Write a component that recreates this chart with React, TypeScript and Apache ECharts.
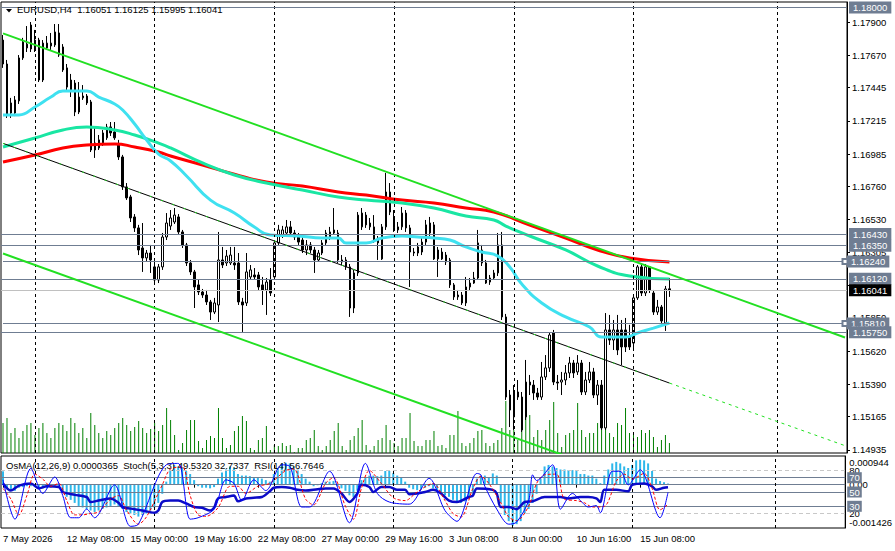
import React, { useEffect, useRef } from 'react';
import * as echarts from 'echarts';

// ---------- DATA ----------
const symbolName = 'EURUSD';
const timeframe = 'H4';
const xTickLabels = ['7 May 2026', '12 May 08:00', '15 May 00:00', '19 May 16:00', '22 May 08:00', '27 May 00:00', '29 May 16:00', '3 Jun 08:00', '8 Jun 00:00', '10 Jun 16:00', '15 Jun 08:00'];
const priceTicks = [1.179, 1.1767, 1.17445, 1.17215, 1.16985, 1.1676, 1.1653, 1.16305, 1.16075, 1.1585, 1.1562, 1.1539, 1.15165, 1.14935];

const opens = [1.17775,1.17609,1.17269,1.17269,1.17353,1.17651,1.17720,1.17713,1.17775,1.17775,1.17498,1.17720,1.17734,1.17741,1.17824,1.17727,1.17582,1.17498,1.17477,1.17276,1.17374,1.17387,1.17346,1.17062,1.17027,1.17062,1.17097,1.17173,1.17138,1.17048,1.16965,1.16757,1.16688,1.16549,1.16473,1.16334,1.16265,1.16299,1.16203,1.16112,1.16203,1.16410,1.16486,1.16514,1.16549,1.16445,1.16355,1.16230,1.16168,1.16078,1.16029,1.16008,1.15960,1.15890,1.15939,1.16251,1.16230,1.16230,1.16230,1.16230,1.15960,1.15953,1.16133,1.16147,1.16147,1.16078,1.16043,1.16112,1.16133,1.16369,1.16424,1.16438,1.16480,1.16438,1.16410,1.16389,1.16320,1.16355,1.16320,1.16251,1.16299,1.16369,1.16410,1.16438,1.16438,1.16251,1.16251,1.16203,1.15918,1.16161,1.16480,1.16562,1.16480,1.16480,1.16389,1.16258,1.16480,1.16722,1.16549,1.16459,1.16480,1.16576,1.16473,1.16306,1.16299,1.16306,1.16375,1.16438,1.16494,1.16320,1.16258,1.16285,1.16251,1.16078,1.15995,1.16008,1.15953,1.16064,1.16091,1.16126,1.16320,1.16230,1.16098,1.16126,1.16161,1.16355,1.15856,1.15315,1.15163,1.15301,1.15301,1.15163,1.15405,1.15384,1.15329,1.15301,1.15440,1.15503,1.15745,1.15405,1.15405,1.15419,1.15468,1.15537,1.15475,1.15537,1.15336,1.15419,1.15475,1.15315,1.15384,1.15087,1.15766,1.15696,1.15766,1.15766,1.15766,1.15717,1.15675,1.15988,1.16203,1.16022,1.16203,1.16022,1.15890,1.15925,1.15814,1.16051];
const closes = [1.17609,1.17255,1.17339,1.17360,1.17651,1.17761,1.17747,1.17879,1.17720,1.17498,1.17754,1.17754,1.17754,1.17831,1.17671,1.17568,1.17449,1.17422,1.17276,1.17380,1.17387,1.17339,1.17013,1.17013,1.17083,1.17131,1.17173,1.17131,1.17097,1.16965,1.16757,1.16681,1.16542,1.16473,1.16320,1.16265,1.16299,1.16251,1.16112,1.16203,1.16410,1.16507,1.16542,1.16562,1.16445,1.16355,1.16230,1.16168,1.16064,1.16029,1.16008,1.15960,1.15890,1.15953,1.16251,1.16216,1.16278,1.16285,1.16216,1.15960,1.15939,1.16168,1.16182,1.16133,1.16064,1.16043,1.16098,1.16022,1.16369,1.16459,1.16459,1.16480,1.16438,1.16410,1.16375,1.16320,1.16355,1.16320,1.16251,1.16299,1.16369,1.16438,1.16445,1.16459,1.16251,1.16237,1.16203,1.15918,1.16161,1.16562,1.16576,1.16494,1.16507,1.16389,1.16369,1.16480,1.16722,1.16583,1.16473,1.16480,1.16576,1.16473,1.16306,1.16299,1.16341,1.16375,1.16494,1.16507,1.16258,1.16258,1.16306,1.16237,1.16078,1.15995,1.16008,1.15953,1.16064,1.16091,1.16126,1.16369,1.16230,1.16091,1.16126,1.16161,1.16355,1.15856,1.15301,1.15211,1.15329,1.15336,1.15073,1.15405,1.15384,1.15329,1.15301,1.15440,1.15503,1.15731,1.15405,1.15398,1.15419,1.15468,1.15537,1.15468,1.15537,1.15336,1.15419,1.15475,1.15315,1.15384,1.15087,1.15766,1.15696,1.15766,1.15627,1.15648,1.15648,1.15648,1.15988,1.16203,1.16022,1.16203,1.16043,1.15890,1.15925,1.15828,1.16050,1.16041];
const lows = [1.17582,1.17235,1.17235,1.17248,1.17332,1.17637,1.17692,1.17692,1.17692,1.17484,1.17484,1.17706,1.17706,1.17727,1.17658,1.17554,1.17429,1.17380,1.17248,1.17262,1.17360,1.17325,1.16999,1.16958,1.17013,1.17041,1.17083,1.17110,1.17083,1.16944,1.16736,1.16667,1.16514,1.16445,1.16285,1.16168,1.16237,1.16161,1.16078,1.16091,1.16182,1.16389,1.16459,1.16500,1.16431,1.16334,1.16209,1.16147,1.15918,1.16008,1.15988,1.15939,1.15835,1.15876,1.15821,1.16195,1.16209,1.16216,1.16182,1.15939,1.15752,1.15932,1.16112,1.16112,1.16043,1.15939,1.15870,1.16001,1.16112,1.16355,1.16403,1.16424,1.16417,1.16389,1.16355,1.16299,1.16285,1.16299,1.16161,1.16237,1.16285,1.16355,1.16389,1.16424,1.16230,1.16216,1.16182,1.15856,1.15883,1.16140,1.16459,1.16473,1.16459,1.16369,1.16251,1.16251,1.16459,1.16562,1.16445,1.16438,1.16459,1.16445,1.16064,1.16278,1.16278,1.16285,1.16355,1.16417,1.16251,1.16133,1.16251,1.16216,1.16057,1.15974,1.15974,1.15939,1.15932,1.16043,1.16085,1.16112,1.16209,1.16085,1.16078,1.16119,1.16140,1.15835,1.15281,1.15093,1.15073,1.15281,1.15059,1.15142,1.15315,1.15281,1.15281,1.15281,1.15419,1.15475,1.15384,1.15350,1.15315,1.15384,1.15433,1.15433,1.15454,1.15315,1.15315,1.15398,1.15294,1.15246,1.15073,1.15073,1.15662,1.15627,1.15592,1.15523,1.15613,1.15627,1.15641,1.15974,1.16001,1.16001,1.16022,1.15870,1.15870,1.15814,1.15759,1.15995];
const highs = [1.17810,1.17637,1.17374,1.17387,1.17671,1.17790,1.17872,1.17900,1.17845,1.17790,1.17775,1.17803,1.17824,1.17886,1.17886,1.17747,1.17609,1.17540,1.17498,1.17484,1.17463,1.17401,1.17360,1.17173,1.17117,1.17152,1.17194,1.17207,1.17207,1.17083,1.16979,1.16784,1.16702,1.16569,1.16494,1.16507,1.16320,1.16355,1.16237,1.16223,1.16438,1.16576,1.16597,1.16611,1.16569,1.16459,1.16369,1.16251,1.16182,1.16112,1.16050,1.16043,1.15974,1.15988,1.16445,1.16341,1.16320,1.16341,1.16341,1.16299,1.15988,1.16299,1.16216,1.16195,1.16168,1.16133,1.16126,1.16195,1.16389,1.16494,1.16487,1.16528,1.16521,1.16459,1.16438,1.16417,1.16389,1.16375,1.16341,1.16320,1.16389,1.16459,1.16480,1.16611,1.16459,1.16285,1.16271,1.16223,1.16182,1.16583,1.16611,1.16583,1.16542,1.16562,1.16417,1.16500,1.16854,1.16784,1.16597,1.16514,1.16618,1.16597,1.16494,1.16334,1.16369,1.16403,1.16528,1.16549,1.16514,1.16341,1.16334,1.16306,1.16265,1.16091,1.16043,1.16029,1.16133,1.16126,1.16168,1.16459,1.16355,1.16251,1.16147,1.16182,1.16438,1.16445,1.15877,1.15350,1.15384,1.15419,1.15336,1.15558,1.15454,1.15419,1.15364,1.15544,1.15592,1.15745,1.15766,1.15454,1.15475,1.15523,1.15579,1.15558,1.15592,1.15558,1.15475,1.15544,1.15503,1.15419,1.15419,1.15883,1.15870,1.15835,1.15870,1.15835,1.15849,1.15801,1.16008,1.16216,1.16223,1.16223,1.16209,1.16043,1.15974,1.15939,1.16071,1.16125];
const volumes = [30,35,20,25,15,22,28,30,18,25,30,20,15,25,30,28,22,35,30,20,25,15,40,28,20,15,22,18,25,30,35,28,22,26,32,25,20,24,30,22,28,45,33,18,3,10,23,33,33,12,5,13,17,15,45,15,5,8,22,27,37,32,5,3,13,15,27,3,8,7,10,7,8,1,5,5,13,15,23,7,3,7,13,22,30,7,3,13,17,25,33,8,3,7,13,15,28,13,10,7,15,15,40,12,7,7,13,13,22,7,8,5,18,18,42,10,7,10,15,22,23,10,7,10,13,25,52,23,23,13,36,36,38,16,23,13,23,33,51,20,6,18,20,23,50,23,16,20,20,30,56,56,20,16,30,28,45,20,20,16,23,20,23,16,6,13,18,10];

const maFast = [[0,1.17256],[4,1.17256],[8,1.17311],[12,1.1738],[15,1.17422],[21,1.17422],[24,1.1738],[28,1.17332],[30,1.1729],[33,1.17193],[36,1.17082],[39,1.16985],[42,1.16937],[46,1.16833],[52,1.16666],[58,1.16576],[63,1.16479],[67,1.16424],[74,1.16417],[80,1.16403],[84,1.16403],[86,1.16368],[91,1.16368],[95,1.16403],[100,1.16417],[104,1.1641],[108,1.16403],[112,1.16389],[116,1.16341],[120,1.16306],[124,1.16278],[127,1.16202],[130,1.16084],[135,1.15953],[141,1.15856],[147,1.15786],[150,1.15717],[156,1.15717],[159,1.15745],[163,1.15779],[167,1.15814]];
const maMid = [[0,1.17034],[8,1.17096],[15,1.17152],[21,1.17172],[28,1.17152],[33,1.17117],[39,1.17061],[42,1.17027],[50,1.16923],[58,1.1684],[66,1.16784],[75,1.16736],[84,1.16687],[91,1.16666],[100,1.16646],[108,1.16611],[116,1.16556],[123,1.16528],[126,1.16486],[132,1.16417],[141,1.1632],[149,1.16209],[157,1.1614],[167,1.16119]];
const maSlow = [[0,1.1693],[8,1.16978],[15,1.17027],[21,1.17048],[28,1.17055],[33,1.17034],[39,1.16999],[42,1.16971],[50,1.16909],[58,1.16845],[66,1.16791],[75,1.16763],[84,1.16722],[91,1.16701],[100,1.16666],[108,1.16646],[116,1.16611],[123,1.16583],[132,1.16493],[141,1.16403],[149,1.1632],[157,1.16265],[167,1.16237]];

const channelUpper = [[0,1.17821],[211,1.15714]];
const channelMid = [[0,1.17059],[167,1.15398]];
const channelMidRay = [[167,1.15398],[211,1.14964]];
const channelLower = [[0,1.16296],[211,1.14196]];

const levelPrices = [1.18, 1.1643, 1.1635, 1.1624, 1.1612, 1.1581, 1.1575];
const levelWithSquare = [1.1624, 1.1581];
const weekStartBars = [8, 38, 68, 98, 128, 158, 194];

const osma = [0.00044,-0.00015,-0.0002,-0.0002,-0.0001,-0.00008,-0.00005,-0.00005,-0.00008,-0.0001,-0.00012,-0.00012,-0.0001,-0.00008,-0.0001,-0.00025,-0.0004,-0.0005,-0.0006,-0.0007,-0.00075,-0.0008,-0.00085,-0.0009,-0.00085,-0.0008,-0.00075,-0.0007,-0.00065,-0.0007,-0.0008,-0.0009,-0.00095,-0.001,-0.00105,-0.001,-0.00095,-0.00085,-0.00075,-0.0006,-0.0003,0.0001,0.00045,0.00065,0.0006,0.00055,0.00045,0.00035,0.00015,-0.00005,-0.0001,-0.0001,-0.00012,-0.00008,0.0002,0.0004,0.0005,0.0006,0.00055,0.00035,0.0003,0.0003,0.00028,0.00025,0.00022,0.0002,0.00015,0.0001,0.00035,0.00055,0.0007,0.00072,0.0007,0.0006,0.0005,0.00035,0.0002,0.0001,-0.00005,-0.00002,0.00005,0.0001,0.0001,0.00012,-0.00005,-0.00012,-0.0002,-0.00035,-0.0004,-0.0002,0.00015,0.00025,0.0003,0.0003,0.00028,0.0003,0.00045,0.00045,0.00038,0.0003,0.00025,0.0001,-0.0001,-0.00015,-0.00018,-0.00015,-0.0001,-0.00005,-0.00012,-0.0002,-0.0003,-0.00035,-0.0004,-0.0005,-0.00058,-0.0006,-0.00055,-0.00045,-0.0003,0.0002,0.0003,0.0003,0.00025,0.00037,0.0003,-0.0006,-0.001,-0.0012,-0.00135,-0.0013,-0.0012,-0.00095,-0.0008,-0.0006,-0.0003,0.0002,0.0006,0.00065,0.0006,0.00055,0.0005,0.0005,0.00048,0.00048,0.00045,0.00035,0.00035,0.0003,0.0003,0.0002,0.00005,0.0003,0.0005,0.0007,0.00075,0.0007,0.0006,0.00055,0.00065,0.0008,0.00082,0.0008,0.0007,0.00045,0.0002,0.00012,0.00008,0.0000365];
const rsi = [[0,62],[2,52],[4,59],[7,62],[9,55],[11,58],[14,57],[15,50],[18,46],[21,43],[22,36],[24,38],[27,41],[29,35],[30,29],[33,26],[35,24],[38,21],[39,24],[40,36],[42,38],[44,38],[46,34],[48,29],[50,28],[52,24],[53,28],[54,41],[56,43],[58,45],[59,37],[61,41],[63,42],[65,43],[67,51],[68,56],[70,57],[72,56],[74,53],[76,52],[79,54],[81,55],[83,55],[85,48],[87,36],[89,48],[90,60],[92,57],[93,50],[95,57],[97,57],[99,53],[101,53],[102,47],[104,48],[106,50],[108,53],[110,48],[112,38],[114,36],[117,43],[118,45],[119,55],[123,53],[124,48],[125,29],[127,29],[129,26],[131,36],[133,37],[136,43],[138,43],[140,43],[142,41],[145,43],[147,43],[149,41],[150,36],[151,53],[154,53],[157,51],[158,60],[161,62],[163,58],[164,53],[166,56],[167,56.7646]];
const stochMain = [[0,67],[3,12],[7,83],[10,48],[13,71],[15,45],[17,14],[19,14],[21,26],[23,14],[28,60],[32,2],[34,5],[41,88],[44,90],[47,12],[49,14],[53,26],[56,67],[58,62],[60,38],[63,67],[66,52],[70,88],[72,86],[75,29],[77,29],[82,79],[87,7],[91,90],[94,48],[97,36],[102,33],[107,69],[111,24],[114,9],[119,76],[120,74],[121,58],[124,26],[127,5],[129,8],[132,38],[133,74],[134,66],[138,88],[140,26],[143,48],[145,38],[147,29],[149,31],[150,21],[153,79],[155,79],[157,60],[160,81],[165,14],[167,49.532]];
const stochSignal = [[0,55],[2,40],[4,18],[6,45],[8,75],[10,68],[12,58],[14,62],[16,38],[18,18],[20,18],[22,20],[24,22],[27,40],[29,45],[31,25],[34,5],[36,15],[40,60],[42,82],[45,85],[47,45],[49,18],[51,16],[54,28],[57,58],[59,58],[61,48],[64,58],[67,62],[71,80],[73,82],[76,40],[78,32],[81,62],[83,70],[86,30],[88,12],[90,55],[92,80],[95,62],[98,42],[101,38],[104,50],[108,62],[111,38],[113,20],[115,15],[118,55],[120,72],[122,62],[125,35],[127,15],[129,10],[132,30],[134,62],[136,74],[139,75],[141,40],[144,38],[146,35],[148,29],[151,30],[154,65],[156,75],[158,68],[161,76],[163,55],[165,25],[167,32.7337]];
const osmaParams = [12, 26, 9];
const stochParams = [5, 3, 3];
const rsiPeriod = 14;
const stochLevels = [80, 70, 50, 30, 20];

// ---------- LAYOUT / STYLE ----------
const SLOTS = 212;
const FONT = "'Liberation Sans', Arial, sans-serif";
const FS = 9.5;
const SLATE = '#6F7D92';
const PRICE_MAX = 1.180386;
const PRICE_MIN = 1.149132;
const OSMA_MAX = 0.000944;
const OSMA_MIN = -0.001426;

export default function App() {
  const ref = useRef<HTMLDivElement>(null);
  useEffect(() => {
    document.body.style.margin = '0';
    const chart = echarts.init(ref.current!, null, { renderer: 'svg' });
    const cats = Array.from({ length: SLOTS }, (_, i) => String(i));
    const last = opens.length - 1;
    const f5 = (v: number) => v.toFixed(5);
    const candleData = opens.map((o, i) => [o, closes[i], lows[i], highs[i]]);
    const boxLabel = (bg: string, text: string) => ({
      show: true, position: 'end', distance: 2, formatter: text,
      backgroundColor: bg, color: '#fff', padding: [1, 4, 0, 4], fontSize: FS, fontFamily: FONT, lineHeight: 11,
    });
    const levelData: any[] = levelPrices.map((v) => {
      const style = { lineStyle: { color: SLATE, width: 1, type: 'solid' }, label: boxLabel(SLATE, f5(v)) };
      if (levelWithSquare.includes(v)) {
        return [
          { coord: [0, v], symbol: 'none', ...style },
          { coord: [SLOTS - 1, v], symbol: 'emptyRect', symbolSize: 5, itemStyle: { color: SLATE } },
        ];
      }
      return { yAxis: v, ...style };
    });
    levelData.push({ yAxis: closes[last], lineStyle: { color: '#C0C0C0', width: 1, type: 'solid' }, label: boxLabel('#000', f5(closes[last])) });

    const labelInterval = (i: number) => i % 16 === 0 && i / 16 < xTickLabels.length;
    const lvl = (v: number) => {
      const box = v === 70 || v === 50 || v === 30;
      return {
        yAxis: v,
        lineStyle: box ? { color: SLATE, width: 1, type: 'solid' } : { color: '#C8C8C8', width: 1, type: [4, 3] },
        label: box ? { show: true, position: 'end', distance: 2, formatter: String(v), backgroundColor: SLATE, color: '#fff', padding: [1, 2, 0, 2], fontSize: FS, fontFamily: FONT, lineHeight: 10 } : { show: false },
      };
    };
    const txt = { fontSize: FS, fontWeight: 'normal', color: '#000', fontFamily: FONT };

    const option: any = {
      animation: false,
      backgroundColor: '#fff',
      title: [
        { text: `${symbolName},${timeframe}  ${f5(opens[last])} ${f5(highs[last])} ${f5(lows[last])} ${f5(closes[last])}`, left: 17, top: 4, padding: 0, textStyle: txt },
        { text: `OsMA(${osmaParams.join(',')}) ${osma[last].toFixed(7)}  Stoch(${stochParams.join(',')}) ${stochMain[stochMain.length - 1][1].toFixed(4)} ${stochSignal[stochSignal.length - 1][1].toFixed(4)}  RSI(${rsiPeriod}) ${rsi[rsi.length - 1][1].toFixed(4)}`, left: 6, top: 460, padding: 0, textStyle: txt },
      ],
      graphic: [
        { type: 'polygon', shape: { points: [[6, 9], [12, 9], [9, 12.5]] }, style: { fill: '#000' } },
      ],
      grid: [
        { left: 1, width: 846, top: 2, height: 451, show: true, borderColor: '#000', borderWidth: 1, backgroundColor: 'transparent' },
        { left: 1, width: 846, top: 456, height: 72, show: true, borderColor: '#000', borderWidth: 1, backgroundColor: 'transparent' },
      ],
      xAxis: [
        { type: 'category', gridIndex: 0, data: cats, boundaryGap: true, axisLine: { show: false }, axisTick: { show: false }, axisLabel: { show: false }, splitLine: { show: false } },
        {
          type: 'category', gridIndex: 1, data: cats, boundaryGap: true, axisLine: { show: false },
          axisTick: { show: true, interval: labelInterval, alignWithLabel: true, length: 3, lineStyle: { color: '#000' } },
          axisLabel: { interval: labelInterval, formatter: (_v: string, i: number) => xTickLabels[i / 16] ?? '', align: 'left', margin: 5, fontSize: FS, fontFamily: FONT, color: '#000' },
          splitLine: { show: false },
        },
      ],
      yAxis: [
        {
          type: 'value', gridIndex: 0, position: 'right', min: PRICE_MIN, max: PRICE_MAX, splitLine: { show: false },
          axisLine: { show: true, lineStyle: { color: '#000' } },
          axisTick: { show: true, customValues: priceTicks, length: 3, lineStyle: { color: '#000' } },
          axisLabel: { customValues: priceTicks, formatter: (v: number) => f5(v), margin: 5, fontSize: FS, fontFamily: FONT, color: '#000' },
        },
        { type: 'value', gridIndex: 0, min: 0, max: 451, show: false },
        {
          type: 'value', gridIndex: 1, position: 'right', min: OSMA_MIN, max: OSMA_MAX, splitLine: { show: false },
          axisLine: { show: true, lineStyle: { color: '#000' } },
          axisTick: { show: false },
          axisLabel: {
            customValues: [OSMA_MAX, 0, OSMA_MIN],
            formatter: (v: number) => (v === 0 ? '{z|0.00}' : v > 0 ? `{hi|${v}}` : `{lo|${v}}`),
            margin: 4, color: '#000',
            rich: {
              z: { fontSize: FS, fontFamily: FONT, color: '#000' },
              hi: { fontSize: FS, fontFamily: FONT, color: '#000', padding: [12, 0, 0, 0] },
              lo: { fontSize: FS, fontFamily: FONT, color: '#000', padding: [0, 0, 12, 0] },
            },
          },
        },
        {
          type: 'value', gridIndex: 1, position: 'right', min: -0.35, max: 100.35, splitLine: { show: false },
          axisLine: { show: false }, axisTick: { show: false },
          axisLabel: { customValues: [80, 20], margin: 4, fontSize: FS, fontFamily: FONT, color: '#000' },
        },
      ],
      series: [
        {
          type: 'bar', name: 'volume', xAxisIndex: 0, yAxisIndex: 1, data: volumes, barWidth: 1, itemStyle: { color: '#008000' }, z: 1, silent: true,
          markLine: { silent: true, symbol: ['none', 'none'], animation: false, lineStyle: { color: '#000', width: 1, type: [3, 3] }, label: { show: false }, data: weekStartBars.map((b) => ({ xAxis: b })) },
        },
        {
          type: 'candlestick', xAxisIndex: 0, yAxisIndex: 0, data: candleData, barWidth: 2, clip: false, z: 3,
          itemStyle: { color: '#fff', color0: '#000', borderColor: '#000', borderColor0: '#000', borderWidth: 1 },
        },
        { type: 'line', xAxisIndex: 0, yAxisIndex: 0, data: maSlow, smooth: 0.5, symbol: 'none', lineStyle: { color: '#FF0000', width: 3 }, z: 4 },
        { type: 'line', xAxisIndex: 0, yAxisIndex: 0, data: maMid, smooth: 0.5, symbol: 'none', lineStyle: { color: '#19E6A3', width: 3 }, z: 4 },
        { type: 'line', xAxisIndex: 0, yAxisIndex: 0, data: maFast, smooth: 0.5, symbol: 'none', lineStyle: { color: '#3FE1F0', width: 3 }, z: 4 },
        {
          type: 'line', xAxisIndex: 0, yAxisIndex: 0, data: channelUpper, symbol: 'none', lineStyle: { color: '#22E022', width: 2 }, z: 5,
          markLine: { silent: true, animation: false, precision: 6, symbol: ['none', 'none'], symbolSize: 5, data: levelData },
        },
        { type: 'line', xAxisIndex: 0, yAxisIndex: 0, data: channelLower, symbol: 'none', lineStyle: { color: '#22E022', width: 2 }, z: 5 },
        { type: 'line', xAxisIndex: 0, yAxisIndex: 0, data: channelMid, symbol: 'none', lineStyle: { color: '#000', width: 1 }, z: 5 },
        { type: 'line', xAxisIndex: 0, yAxisIndex: 0, data: channelMid, symbol: 'none', lineStyle: { color: '#22E022', width: 1, type: [2, 10] }, z: 5 },
        { type: 'line', xAxisIndex: 0, yAxisIndex: 0, data: channelMidRay, symbol: 'none', lineStyle: { color: '#22E022', width: 1, type: [3, 4] }, z: 5 },
        {
          type: 'bar', xAxisIndex: 1, yAxisIndex: 2, data: osma, barWidth: 2, itemStyle: { color: '#2DB7EA' }, z: 2, silent: true,
          markLine: { silent: true, precision: 8, symbol: ['none', 'none'], animation: false, data: [{ yAxis: 0, lineStyle: { color: SLATE, width: 1, type: 'solid' }, label: { show: false } }, ...weekStartBars.map((b) => ({ xAxis: b, lineStyle: { color: '#000', width: 1, type: [3, 3] }, label: { show: false } }))] },
        },
        {
          type: 'line', xAxisIndex: 1, yAxisIndex: 3, data: rsi, smooth: 0.3, symbol: 'none', lineStyle: { color: '#0B0BC8', width: 2.5 }, z: 5,
          markLine: { silent: true, precision: 4, symbol: ['none', 'none'], animation: false, data: stochLevels.map(lvl) },
        },
        { type: 'line', xAxisIndex: 1, yAxisIndex: 3, data: stochSignal, smooth: 0.3, symbol: 'none', lineStyle: { color: '#FF0000', width: 1, type: [3, 2] }, z: 6 },
        { type: 'line', xAxisIndex: 1, yAxisIndex: 3, data: stochMain, smooth: 0.3, symbol: 'none', lineStyle: { color: '#0000FF', width: 1 }, z: 6 },
      ],
    };
    chart.setOption(option);
    return () => chart.dispose();
  }, []);
  return <div ref={ref} style={{ width: 895, height: 551 }} />;
}
